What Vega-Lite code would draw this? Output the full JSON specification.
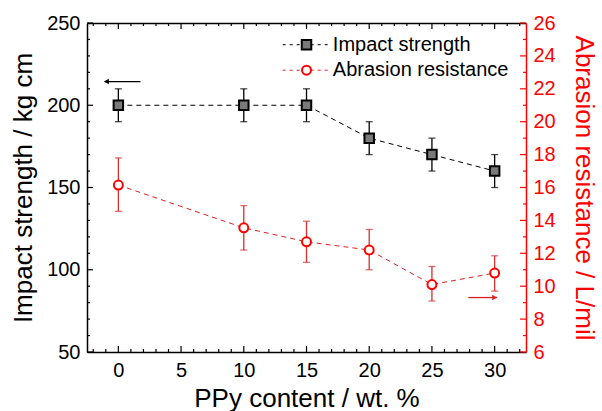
{
  "$schema": "https://vega.github.io/schema/vega-lite/v6.json",
  "width": 439,
  "height": 329,
  "autosize": {"type": "none"},
  "padding": {"left": 87, "top": 23, "right": 76, "bottom": 59},
  "config": {
    "view": {"stroke": null},
    "font": "Liberation Sans",
    "axis": {
      "grid": false,
      "labelFont": "Liberation Sans",
      "titleFont": "Liberation Sans",
      "labelFontSize": 20,
      "titleFontSize": 26,
      "titleFontWeight": "normal",
      "domainWidth": 1.5,
      "labelOverlap": false
    }
  },
  "datasets": {
    "xMajor": [{"t": 0}, {"t": 5}, {"t": 10}, {"t": 15}, {"t": 20}, {"t": 25}, {"t": 30}],
    "xMinor": [{"t": -2}, {"t": -1}, {"t": 1}, {"t": 2}, {"t": 3}, {"t": 4}, {"t": 6}, {"t": 7}, {"t": 8}, {"t": 9}, {"t": 11}, {"t": 12}, {"t": 13}, {"t": 14}, {"t": 16}, {"t": 17}, {"t": 18}, {"t": 19}, {"t": 21}, {"t": 22}, {"t": 23}, {"t": 24}, {"t": 26}, {"t": 27}, {"t": 28}, {"t": 29}, {"t": 31}, {"t": 32}],
    "lMajor": [{"t": 50}, {"t": 100}, {"t": 150}, {"t": 200}, {"t": 250}],
    "lMinor": [{"t": 60}, {"t": 70}, {"t": 80}, {"t": 90}, {"t": 110}, {"t": 120}, {"t": 130}, {"t": 140}, {"t": 160}, {"t": 170}, {"t": 180}, {"t": 190}, {"t": 210}, {"t": 220}, {"t": 230}, {"t": 240}],
    "rMajor": [{"t": 6}, {"t": 8}, {"t": 10}, {"t": 12}, {"t": 14}, {"t": 16}, {"t": 18}, {"t": 20}, {"t": 22}, {"t": 24}, {"t": 26}],
    "rMinor": [{"t": 7}, {"t": 9}, {"t": 11}, {"t": 13}, {"t": 15}, {"t": 17}, {"t": 19}, {"t": 21}, {"t": 23}, {"t": 25}]
  },
  "layer": [
    {
      "data": {"values": [
        {"x": 0, "y": 200, "lo": 190, "hi": 210},
        {"x": 10, "y": 200, "lo": 190, "hi": 210},
        {"x": 15, "y": 200, "lo": 190, "hi": 210},
        {"x": 20, "y": 180, "lo": 170, "hi": 190},
        {"x": 25, "y": 170, "lo": 160, "hi": 180},
        {"x": 30, "y": 160, "lo": 150, "hi": 170}
      ]},
      "layer": [
        {
          "mark": {"type": "line", "color": "black", "strokeWidth": 1, "strokeDash": [5, 4]},
          "encoding": {
            "x": {"field": "x", "type": "quantitative", "scale": {"domain": [-2.5, 32.5], "nice": false, "zero": false}, "axis": null},
            "y": {"field": "y", "type": "quantitative", "scale": {"domain": [50, 250], "nice": false, "zero": false}, "axis": null}
          }
        },
        {
          "mark": {"type": "rule", "color": "black", "strokeWidth": 1.3},
          "encoding": {
            "x": {"field": "x", "type": "quantitative", "axis": null},
            "y": {"field": "lo", "type": "quantitative", "axis": null},
            "y2": {"field": "hi"}
          }
        },
        {
          "mark": {"type": "tick", "orient": "horizontal", "color": "black", "size": 7, "thickness": 1.3},
          "encoding": {
            "x": {"field": "x", "type": "quantitative", "axis": null},
            "y": {"field": "lo", "type": "quantitative", "axis": null}
          }
        },
        {
          "mark": {"type": "tick", "orient": "horizontal", "color": "black", "size": 7, "thickness": 1.3},
          "encoding": {
            "x": {"field": "x", "type": "quantitative", "axis": null},
            "y": {"field": "hi", "type": "quantitative", "axis": null}
          }
        },
        {
          "mark": {"type": "point", "shape": "square", "filled": true, "fill": "#7a7a7a", "stroke": "black", "strokeWidth": 2, "size": 90, "opacity": 1},
          "encoding": {
            "x": {"field": "x", "type": "quantitative", "axis": null},
            "y": {"field": "y", "type": "quantitative", "axis": null}
          }
        },
        {
          "data": {"values": [{"label": "Impact strength"}]},
          "mark": {"type": "rule", "color": "black", "strokeWidth": 1, "strokeDash": [3, 4]},
          "encoding": {"x": {"datum": 13.1, "type": "quantitative", "axis": null}, "x2": {"datum": 16.7}, "y": {"datum": 236.8, "type": "quantitative", "axis": null}}
        },
        {
          "data": {"values": [{"label": "Abrasion resistance"}]},
          "mark": {"type": "rule", "color": "#e02020", "strokeWidth": 1, "strokeDash": [3, 4]},
          "encoding": {"x": {"datum": 13.1, "type": "quantitative", "axis": null}, "x2": {"datum": 16.7}, "y": {"datum": 221.3, "type": "quantitative", "axis": null}}
        },
        {
          "data": {"values": [{"label": "Impact strength"}]},
          "mark": {"type": "point", "shape": "square", "filled": true, "fill": "#7a7a7a", "stroke": "black", "strokeWidth": 2, "size": 90, "opacity": 1},
          "encoding": {"x": {"datum": 15, "type": "quantitative", "axis": null}, "y": {"datum": 236.8, "type": "quantitative", "axis": null}}
        },
        {
          "data": {"values": [{"label": "Abrasion resistance"}]},
          "mark": {"type": "point", "shape": "circle", "filled": true, "fill": "white", "stroke": "red", "strokeWidth": 2, "size": 80, "opacity": 1},
          "encoding": {"x": {"datum": 15, "type": "quantitative", "axis": null}, "y": {"datum": 221.3, "type": "quantitative", "axis": null}}
        },
        {
          "data": {"values": [{"label": "Impact strength"}]},
          "mark": {"type": "text", "align": "left", "baseline": "middle", "fontSize": 20, "font": "Liberation Sans", "color": "black"},
          "encoding": {"x": {"datum": 17.1, "type": "quantitative", "axis": null}, "y": {"datum": 236.8, "type": "quantitative", "axis": null}, "text": {"field": "label"}}
        },
        {
          "data": {"values": [{"label": "Abrasion resistance"}]},
          "mark": {"type": "text", "align": "left", "baseline": "middle", "fontSize": 20, "font": "Liberation Sans", "color": "black"},
          "encoding": {"x": {"datum": 17.1, "type": "quantitative", "axis": null}, "y": {"datum": 221.3, "type": "quantitative", "axis": null}, "text": {"field": "label"}}
        },
        {
          "data": {"values": [{"label": "left arrow"}]},
          "mark": {"type": "rule", "color": "black", "strokeWidth": 1.3},
          "encoding": {"x": {"datum": -1.1, "type": "quantitative", "axis": null}, "x2": {"datum": 1.76}, "y": {"datum": 214.4, "type": "quantitative", "axis": null}}
        },
        {
          "data": {"values": [{"label": "left arrow"}]},
          "mark": {"type": "point", "shape": "triangle-left", "filled": true, "color": "black", "size": 30, "opacity": 1},
          "encoding": {"x": {"datum": -0.95, "type": "quantitative", "axis": null}, "y": {"datum": 214.4, "type": "quantitative", "axis": null}}
        },
        {
          "data": {"name": "xMajor"},
          "mark": {"type": "point", "shape": "M0,0L0,-1", "filled": false, "color": "black", "strokeWidth": 1.2, "size": 144, "opacity": 1},
          "encoding": {"x": {"field": "t", "type": "quantitative", "axis": null}, "y": {"datum": 50, "type": "quantitative", "axis": null}}
        },
        {
          "data": {"name": "xMinor"},
          "mark": {"type": "point", "shape": "M0,0L0,-1", "filled": false, "color": "black", "strokeWidth": 1.2, "size": 36, "opacity": 1},
          "encoding": {"x": {"field": "t", "type": "quantitative", "axis": null}, "y": {"datum": 50, "type": "quantitative", "axis": null}}
        },
        {
          "data": {"name": "xMajor"},
          "mark": {"type": "point", "shape": "M0,0L0,1", "filled": false, "color": "black", "strokeWidth": 1.2, "size": 144, "opacity": 1},
          "encoding": {"x": {"field": "t", "type": "quantitative", "axis": null}, "y": {"datum": 250, "type": "quantitative", "axis": null}}
        },
        {
          "data": {"name": "xMinor"},
          "mark": {"type": "point", "shape": "M0,0L0,1", "filled": false, "color": "black", "strokeWidth": 1.2, "size": 36, "opacity": 1},
          "encoding": {"x": {"field": "t", "type": "quantitative", "axis": null}, "y": {"datum": 250, "type": "quantitative", "axis": null}}
        },
        {
          "data": {"name": "lMajor"},
          "mark": {"type": "point", "shape": "M0,0L1,0", "filled": false, "color": "black", "strokeWidth": 1.2, "size": 144, "opacity": 1},
          "encoding": {"x": {"datum": -2.5, "type": "quantitative", "axis": null}, "y": {"field": "t", "type": "quantitative", "axis": null}}
        },
        {
          "data": {"name": "lMinor"},
          "mark": {"type": "point", "shape": "M0,0L1,0", "filled": false, "color": "black", "strokeWidth": 1.2, "size": 36, "opacity": 1},
          "encoding": {"x": {"datum": -2.5, "type": "quantitative", "axis": null}, "y": {"field": "t", "type": "quantitative", "axis": null}}
        }
      ]
    },
    {
      "data": {"values": [
        {"x": 0, "y": 16.15, "lo": 14.55, "hi": 17.8},
        {"x": 10, "y": 13.55, "lo": 12.2, "hi": 14.9},
        {"x": 15, "y": 12.7, "lo": 11.45, "hi": 13.95},
        {"x": 20, "y": 12.2, "lo": 11.0, "hi": 13.45},
        {"x": 25, "y": 10.1, "lo": 9.1, "hi": 11.2},
        {"x": 30, "y": 10.8, "lo": 9.7, "hi": 11.85}
      ]},
      "layer": [
        {
          "mark": {"type": "line", "color": "#e02020", "strokeWidth": 1, "strokeDash": [5, 4]},
          "encoding": {
            "x": {"field": "x", "type": "quantitative", "scale": {"domain": [-2.5, 32.5], "nice": false, "zero": false}, "axis": null},
            "y": {"field": "y", "type": "quantitative", "scale": {"domain": [6, 26], "nice": false, "zero": false}, "axis": null}
          }
        },
        {
          "mark": {"type": "rule", "color": "#d83030", "strokeWidth": 1.3},
          "encoding": {
            "x": {"field": "x", "type": "quantitative", "axis": null},
            "y": {"field": "lo", "type": "quantitative", "axis": null},
            "y2": {"field": "hi"}
          }
        },
        {
          "mark": {"type": "tick", "orient": "horizontal", "color": "#d83030", "size": 7, "thickness": 1.3},
          "encoding": {
            "x": {"field": "x", "type": "quantitative", "axis": null},
            "y": {"field": "lo", "type": "quantitative", "axis": null}
          }
        },
        {
          "mark": {"type": "tick", "orient": "horizontal", "color": "#d83030", "size": 7, "thickness": 1.3},
          "encoding": {
            "x": {"field": "x", "type": "quantitative", "axis": null},
            "y": {"field": "hi", "type": "quantitative", "axis": null}
          }
        },
        {
          "mark": {"type": "point", "shape": "circle", "filled": true, "fill": "white", "stroke": "red", "strokeWidth": 2, "size": 80, "opacity": 1},
          "encoding": {
            "x": {"field": "x", "type": "quantitative", "axis": null},
            "y": {"field": "y", "type": "quantitative", "axis": null}
          }
        },
        {
          "data": {"values": [{"label": "right arrow"}]},
          "mark": {"type": "rule", "color": "#e02020", "strokeWidth": 1.3},
          "encoding": {"x": {"datum": 27.9, "type": "quantitative", "axis": null}, "x2": {"datum": 30.2}, "y": {"datum": 9.31, "type": "quantitative", "axis": null}}
        },
        {
          "data": {"values": [{"label": "right arrow"}]},
          "mark": {"type": "point", "shape": "triangle-right", "filled": true, "color": "#e02020", "size": 30, "opacity": 1},
          "encoding": {"x": {"datum": 30.0, "type": "quantitative", "axis": null}, "y": {"datum": 9.31, "type": "quantitative", "axis": null}}
        },
        {
          "data": {"name": "rMajor"},
          "mark": {"type": "point", "shape": "M0,0L-1,0", "filled": false, "color": "red", "strokeWidth": 1.2, "size": 144, "opacity": 1},
          "encoding": {"x": {"datum": 32.5, "type": "quantitative", "axis": null}, "y": {"field": "t", "type": "quantitative", "axis": null}}
        },
        {
          "data": {"name": "rMinor"},
          "mark": {"type": "point", "shape": "M0,0L-1,0", "filled": false, "color": "red", "strokeWidth": 1.2, "size": 36, "opacity": 1},
          "encoding": {"x": {"datum": 32.5, "type": "quantitative", "axis": null}, "y": {"field": "t", "type": "quantitative", "axis": null}}
        }
      ]
    },
    {
      "data": {"values": [{"x": 0, "y": 200}]},
      "mark": {"type": "point", "opacity": 0},
      "encoding": {
        "x": {"field": "x", "type": "quantitative", "scale": {"domain": [-2.5, 32.5], "nice": false, "zero": false},
          "axis": {"orient": "bottom", "title": "PPy content / wt. %", "values": [0, 5, 10, 15, 20, 25, 30], "labelOverlap": false,
            "ticks": false, "labelPadding": 8, "titlePadding": 5, "domainColor": "black", "labelColor": "black", "titleColor": "black"}},
        "y": {"field": "y", "type": "quantitative", "scale": {"domain": [50, 250], "nice": false, "zero": false},
          "axis": {"orient": "left", "title": "Impact strength / kg cm", "values": [50, 100, 150, 200, 250], "labelOverlap": false,
            "ticks": false, "labelPadding": 7, "titlePadding": 10, "domainColor": "black", "labelColor": "black", "titleColor": "black"}}
      }
    },
    {
      "data": {"values": [{"x": 0, "y": 16}]},
      "mark": {"type": "point", "opacity": 0},
      "encoding": {
        "x": {"field": "x", "type": "quantitative", "scale": {"domain": [-2.5, 32.5], "nice": false, "zero": false},
          "axis": {"orient": "top", "title": null, "labels": false, "ticks": false, "values": [0, 5, 10, 15, 20, 25, 30], "domainColor": "black"}},
        "y": {"field": "y", "type": "quantitative", "scale": {"domain": [6, 26], "nice": false, "zero": false},
          "axis": {"orient": "right", "title": "Abrasion resistance / L/mil", "values": [6, 8, 10, 12, 14, 16, 18, 20, 22, 24, 26], "labelOverlap": false,
            "ticks": false, "labelPadding": 7, "titlePadding": 15, "domainColor": "red", "labelColor": "red", "titleColor": "red"}}
      }
    }
  ],
  "resolve": {"scale": {"y": "independent"}, "axis": {"x": "independent", "y": "independent"}}
}
